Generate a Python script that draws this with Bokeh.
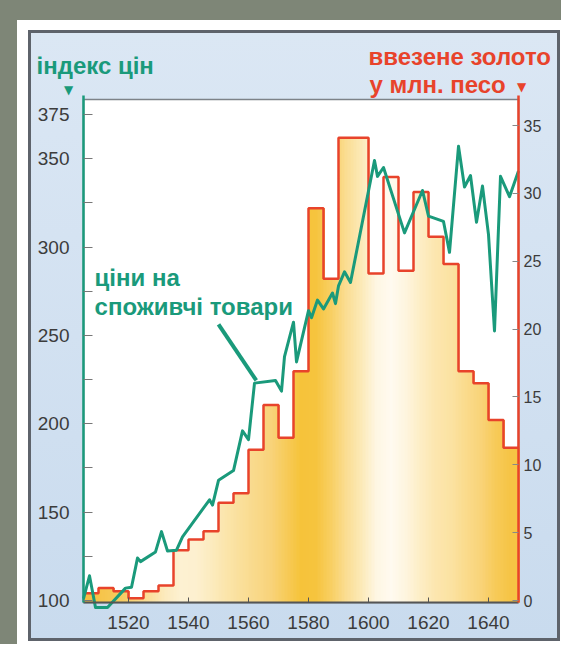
from bokeh.plotting import figure
from bokeh.models import Range1d, LinearAxis, FixedTicker, Label
from bokeh.embed import file_html
from bokeh.resources import INLINE

# ---- data ----
period_start = [1505, 1510, 1515, 1520, 1525, 1530, 1535, 1540, 1545, 1550,
                1555, 1560, 1565, 1570, 1575, 1580, 1585, 1590, 1595, 1600,
                1605, 1610, 1615, 1620, 1625, 1630, 1635, 1640, 1645]
gold_imports = [0.54, 0.93, 0.69, 0.17, 0.69, 1.1, 3.7, 4.5, 5.1, 7.2,
                7.9, 11.1, 14.4, 12.0, 16.9, 28.9, 23.7, 34.1, 34.1, 24.1,
                31.2, 24.3, 30.1, 26.8, 24.8, 16.9, 16.0, 13.3, 11.25]

price_years = [1505, 1507, 1509, 1513, 1519, 1521, 1523, 1524, 1529, 1531,
               1533, 1536, 1538, 1547, 1548, 1550, 1555, 1558, 1560, 1562,
               1569, 1571, 1572, 1575, 1576, 1580, 1581, 1583, 1585, 1588,
               1589, 1590, 1592, 1594, 1602, 1603, 1605, 1612, 1618, 1620,
               1625, 1627, 1630, 1632, 1634, 1636, 1638, 1640, 1642, 1644,
               1647, 1650]
price_index = [101, 114, 96, 96, 107, 107.5, 124, 122, 127.5, 139,
               128, 128.5, 136, 157, 154, 168, 173.5, 196, 191, 223,
               224.5, 218.5, 238, 257.5, 235, 264, 260, 270, 265, 274,
               268, 278, 286, 280, 349, 340, 345, 308, 332, 317.5,
               314.5, 297, 357, 334, 340.5, 314, 334.5, 307, 252.5, 340,
               328.5, 343]

price_ticks = [100, 150, 200, 250, 300, 350, 375]
price_minor_ticks = [125, 175, 225, 275, 325]
gold_ticks = [0, 5, 10, 15, 20, 25, 30, 35]
year_ticks = [1520, 1540, 1560, 1580, 1600, 1620, 1640]

YEAR_MIN, YEAR_MAX = 1505, 1650
PRICE_MIN, PRICE_MAX = 98.868, 383.49
GOLD_MIN = -0.147
PERIOD = 5

# ---- styles ----
GREEN = "#1a9a7b"
RED = "#e8432b"
FONT = "Liberation Sans"
bin_colors = ["#f5c043", "#f6c64f", "#f7cc60", "#f9d67f", "#fbe1a0", "#fcebbf",
              "#fdf1d2", "#fdf0cf", "#fcebbf", "#fbe5ab", "#fadf9a", "#f9d98a",
              "#f8d37a", "#f7cb5a", "#f6c33a", "#f6c43e", "#f8cf62", "#fadd92",
              "#fce9b6", "#fef6e2", "#fffaf0", "#fef5de", "#fdedc4", "#fce6ae",
              "#fbe2a2", "#fadb8c", "#f9d378", "#f7ca58", "#f6c444"]
OVERLAP = 0.3   # years; hidden under the red step line


def _rgb(h):
    return [int(h[i:i + 2], 16) for i in (1, 3, 5)]


def _mix(a, b, t):
    ca, cb = _rgb(a), _rgb(b)
    return "#%02x%02x%02x" % tuple(round(ca[k] + (cb[k] - ca[k]) * t) for k in range(3))


# layered one-year colour strips inside each five-year period (smooth shading,
# each strip runs to the end of its period so that no seams show)
strip_left, strip_right, strip_top, strip_color = [], [], [], []
n = len(period_start)
for i, s in enumerate(period_start):
    centre = s + PERIOD / 2
    for k in range(PERIOD):
        xc = s + k + 0.5
        j = i - 1 if xc < centre else i + 1
        if 0 <= j < n:
            col = _mix(bin_colors[i], bin_colors[j], abs(xc - centre) / PERIOD)
        else:
            col = bin_colors[i]
        strip_left.append(s + k)
        strip_right.append(s + PERIOD + OVERLAP)
        strip_top.append(gold_imports[i])
        strip_color.append(col)

# frame covers the whole blue panel; the white plot box is drawn inside it
p = figure(width=561, height=644,
           x_range=Range1d(1487.333, 1664.0), y_range=Range1d(76.80, 420.84),
           output_backend="svg", toolbar_location=None,
           y_axis_location=None, x_axis_location=None,
           min_border_left=30, min_border_right=1,
           min_border_top=33, min_border_bottom=3)
p.extra_y_ranges = {"gold": Range1d(-3.021, 41.78)}

p.border_fill_color = None
p.background_fill_color = None
p.outline_line_color = None
p.styles = {"background":
            "linear-gradient(#dbe7f4, #c9dbee) 31px 33px / 526px 605px no-repeat, "
            "linear-gradient(#5e636b, #5e636b) 28px 30px / 532px 611px no-repeat, "
            "linear-gradient(#7e8677, #7e8677) 0 0 / 100% 20px no-repeat, "
            "linear-gradient(#7e8677, #7e8677) 0 0 / 17px 100% no-repeat, white"}
p.xgrid.visible = False
p.ygrid.visible = False

# white plot box
p.quad(left=[YEAR_MIN], right=[YEAR_MAX], bottom=[PRICE_MIN], top=[PRICE_MAX],
       fill_color="white", line_color="#7d8288", line_width=1.5)

# gold imports (step area)
p.quad(left=strip_left, right=strip_right, bottom=GOLD_MIN, top=strip_top,
       fill_color=strip_color, line_color=None, y_range_name="gold")
period_end = [s + PERIOD for s in period_start]
p.step(x=period_start + [period_end[-1]], y=gold_imports + [gold_imports[-1]],
       mode="after", line_color=RED, line_width=2.5, y_range_name="gold")

# price index
p.line(price_years, price_index, line_color=GREEN, line_width=3,
       line_join="round")

# annotation pointer
p.segment(x0=[1550], y0=[256.3], x1=[1562.6], y1=[224.5],
          line_color=GREEN, line_width=4)

# axes
ya = LinearAxis(fixed_location=YEAR_MIN, bounds=(PRICE_MIN, 385.8),
                ticker=FixedTicker(ticks=price_ticks, minor_ticks=price_minor_ticks))
ya.axis_line_color = GREEN
ya.axis_line_width = 2.5
ya.major_tick_in = 9
ya.major_tick_out = 0
ya.minor_tick_in = 9
ya.minor_tick_out = 0
ya.major_tick_line_color = "#777777"
ya.minor_tick_line_color = "#777777"
ya.major_label_text_font = FONT
ya.major_label_text_font_size = "19px"
ya.major_label_text_color = "#3c3c3c"
ya.major_label_standoff = 14
p.add_layout(ya, "left")

ra = LinearAxis(y_range_name="gold", fixed_location=YEAR_MAX, bounds=(GOLD_MIN, 37.2),
                ticker=FixedTicker(ticks=gold_ticks))
ra.axis_line_color = RED
ra.axis_line_width = 2.5
ra.major_tick_in = 6
ra.major_tick_out = 0
ra.minor_tick_line_color = None
ra.major_tick_line_color = "#888888"
ra.major_label_text_font = FONT
ra.major_label_text_font_size = "16px"
ra.major_label_text_color = "#3c3c3c"
ra.major_label_standoff = 5
p.add_layout(ra, "right")

xa = LinearAxis(fixed_location=PRICE_MIN, bounds=(YEAR_MIN, YEAR_MAX),
                ticker=FixedTicker(ticks=year_ticks))
xa.axis_line_color = "#555555"
xa.axis_line_width = 2
xa.major_tick_in = 5
xa.major_tick_out = 0
xa.minor_tick_line_color = None
xa.major_tick_line_color = "#555555"
xa.major_label_text_font = FONT
xa.major_label_text_font_size = "19px"
xa.major_label_text_color = "#3c3c3c"
xa.major_label_standoff = 13
p.add_layout(xa, "below")

# texts (data units, inside the frame)
def lab(x, y, text, color, size="24px", align="left", baseline="alphabetic",
        style="bold", font=FONT):
    p.add_layout(Label(x=x, y=y, text=text, text_color=color,
                       text_font=font, text_font_size=size,
                       text_font_style=style, text_align=align,
                       text_baseline=baseline))

lab(1489.33, 402.7, "індекс цін", GREEN)
lab(1600.0, 407.8, "ввезене золото", RED)
lab(1600.3, 392.0, "у млн. песо", RED)
lab(1500.0, 388.6, "▼", GREEN, size="12px", align="center", baseline="middle",
    style="normal", font="DejaVu Sans")
lab(1651.0, 390.8, "▼", RED, size="12px", align="center", baseline="middle",
    style="normal", font="DejaVu Sans")
lab(1508.7, 282.5, "ціни на", GREEN)
lab(1508.7, 266.5, "споживчі товари", GREEN)

open("out.html", "w").write(file_html(p, INLINE))
